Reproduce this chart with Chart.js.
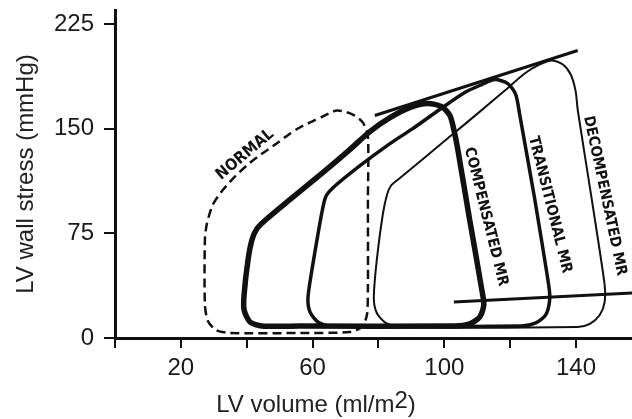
<!DOCTYPE html>
<html>
<head>
<meta charset="utf-8">
<script src="https://cdn.jsdelivr.net/npm/chart.js@4/dist/chart.umd.min.js"></script>
<style>
  html, body { margin: 0; padding: 0; background: #fff; }
  #wrap { width: 632px; height: 419px; position: relative; }
</style>
</head>
<body>
<div id="wrap"><canvas id="chart"></canvas></div>
<script>
// loops: LV volume (ml/m2) vs LV wall stress (mmHg)
const normalVol = [76.8, 76.8, 76.5, 75.0, 71.3, 56.1, 34.9, 30.7, 28.2, 27.3, 27.3, 27.9, 29.7, 32.8, 36.4, 41.0, 45.5, 49.5, 53.1, 56.1, 59.8, 63.1, 67.4, 72.2, 75.3, 76.8, 76.8];
const normalStress = [99, 34.5, 16.5, 7.9, 4.3, 3.6, 3.6, 5.7, 12.2, 23.7, 70.4, 81.8, 95.5, 106.2, 115.6, 125.6, 133.5, 140.0, 146.4, 150.8, 155.1, 158.7, 163, 160.1, 154.3, 144.3, 99];

const compVol = [107.7, 111.4, 112.0, 110.8, 107.7, 103.2, 56.1, 44.6, 41.0, 39.2, 39.2, 40.4, 41.6, 43.1, 45.8, 53.1, 63.1, 71.3, 77.4, 83.5, 89.5, 95.0, 99.2, 101.7, 102.9, 104.1, 107.7];
const compStress = [84.7, 34.5, 23.7, 15.1, 10.1, 8.6, 8.6, 8.6, 11.5, 20.1, 30.9, 56.0, 70.4, 78.3, 84.7, 99.1, 118.5, 135.0, 147.9, 157.9, 165.1, 168.0, 165.8, 159.4, 149.3, 135.0, 84.7];

const transVol = [127.5, 131.7, 132.0, 130.8, 127.8, 123.5, 65.3, 61.6, 59.2, 58.6, 59.8, 61.6, 62.8, 64.0, 66.2, 74.4, 83.5, 90.4, 98.6, 106.2, 111.4, 115.3, 119.3, 121.7, 122.9, 127.5];
const transStress = [99.1, 38.0, 27.3, 16.5, 10.8, 8.6, 8.6, 11.5, 18.7, 28.7, 48.8, 73.9, 89.7, 101.2, 107.7, 123.5, 139.3, 150.0, 163.7, 175.9, 181.6, 185.2, 182.3, 174.4, 160.1, 99.1];

const decompVol = [144.8, 148.7, 148.7, 147.2, 144.2, 140.5, 86.5, 82.2, 79.5, 78.6, 79.5, 81.3, 82.6, 83.8, 85.9, 101.7, 110.8, 118.4, 124.4, 129.0, 132.6, 136.0, 138.4, 139.9, 140.5, 144.8];
const decompStress = [99.1, 38.0, 25.8, 16.5, 10.1, 7.9, 7.9, 10.8, 17.9, 28.7, 56.0, 88.3, 102.7, 109.1, 113.4, 144.3, 162.2, 177.3, 189.5, 196.0, 198.9, 196.0, 188.8, 176.6, 163.7, 99.1];

// end-systolic and end-diastolic lines
const esVol = [78.9, 140.5];
const esStress = [159.4, 206.0];
const edVol = [102.9, 157];
const edStress = [25.8, 32.3];

const xTickLabels = [20, 60, 100, 140];
const yTickLabels = [0, 75, 150, 225];

const pts = (xs, ys) => xs.map((x, i) => ({ x: x, y: ys[i] }));

const INK = '#111';

function loop(data, width, dash) {
    return {
        data: data,
        showLine: true,
        borderColor: INK,
        borderWidth: width,
        borderDash: dash || [],
        pointRadius: 0,
        tension: 0.25,
        fill: false,
    };
}

// text on the loops, placed in data units
const loopLabels = [
    { text: 'NORMAL', x: 39.5, y: 131.4, angle: -40, size: 16 },
    { text: 'COMPENSATED MR', x: 112.6, y: 86.9, angle: 76, size: 15 },
    { text: 'TRANSITIONAL MR', x: 132.0, y: 95.5, angle: 76, size: 15 },
    { text: 'DECOMPENSATED MR', x: 148.7, y: 101.9, angle: 78, size: 15 },
];

const textPlugin = {
    id: 'textPlugin',
    afterDraw(chart) {
        const ctx = chart.ctx;
        const xs = chart.scales.x, ys = chart.scales.y;
        ctx.save();
        ctx.fillStyle = INK;
        ctx.textAlign = 'center';
        ctx.textBaseline = 'middle';
        loopLabels.forEach(l => {
            ctx.save();
            ctx.translate(xs.getPixelForValue(l.x), ys.getPixelForValue(l.y));
            ctx.rotate(l.angle * Math.PI / 180);
            ctx.font = 'bold ' + l.size + 'px "DejaVu Sans Condensed", "DejaVu Sans"';
            ctx.fillText(l.text, 0, 0);
            ctx.restore();
        });
        ctx.restore();

        // x axis title with the raised 2
        ctx.save();
        ctx.fillStyle = '#222';
        ctx.textBaseline = 'alphabetic';
        ctx.textAlign = 'left';
        ctx.font = '24px "Liberation Sans", Arial, sans-serif';
        const a = 'LV volume (ml/m', b = '2', c = ')';
        const wa = ctx.measureText(a).width;
        const wb = ctx.measureText(b).width;
        const wc = ctx.measureText(c).width;
        let x0 = 316 - (wa + wb + wc) / 2;
        const base = 412;
        ctx.fillText(a, x0, base);
        ctx.fillText(b, x0 + wa, base - 4);
        ctx.fillText(c, x0 + wa + wb, base);
        ctx.restore();
    }
};

new Chart(document.getElementById('chart'), {
    type: 'scatter',
    data: {
        datasets: [
            loop(pts(normalVol, normalStress), 2.5, [9, 5]),
            loop(pts(compVol, compStress), 5.5),
            loop(pts(transVol, transStress), 3.5),
            loop(pts(decompVol, decompStress), 2),
            loop(pts(esVol, esStress), 3),
            loop(pts(edVol, edStress), 3),
        ]
    },
    options: {
        responsive: true,
        maintainAspectRatio: false,
        animation: false,
        layout: { padding: { top: 10, right: 0, left: 0, bottom: 0 } },
        plugins: {
            legend: { display: false },
            tooltip: { enabled: false },
        },
        scales: {
            x: {
                type: 'linear',
                min: 0,
                max: 157,
                afterBuildTicks: s => { s.ticks = s.ticks.filter(t => t.value % 20 === 0); },
                afterFit: s => { s.height = 81; s.paddingLeft = 0; s.paddingRight = 0; },
                ticks: {
                    stepSize: 20,
                    includeBounds: false,
                    autoSkip: false,
                    color: '#1a1a1a',
                    padding: 6,
                    maxRotation: 0,
                    font: { family: '"Liberation Sans", Arial, sans-serif', size: 24 },
                    callback: v => xTickLabels.includes(v) ? String(v) : '',
                },
                grid: { drawOnChartArea: false, color: INK, lineWidth: 2, tickLength: 10 },
                border: { color: INK, width: 3 },
            },
            y: {
                type: 'linear',
                min: 0,
                max: 235,
                afterBuildTicks: s => { s.ticks = s.ticks.filter(t => t.value % 75 === 0); },
                afterFit: s => { s.width = 115; s.paddingTop = 0; s.paddingBottom = 0; },
                ticks: {
                    stepSize: 75,
                    includeBounds: false,
                    autoSkip: false,
                    color: '#1a1a1a',
                    padding: 10,
                    font: { family: '"Liberation Sans", Arial, sans-serif', size: 24 },
                    callback: v => yTickLabels.includes(v) ? String(v) : '',
                },
                grid: { drawOnChartArea: false, color: INK, lineWidth: 2, tickLength: 11 },
                border: { color: INK, width: 3 },
                title: {
                    display: true,
                    text: 'LV wall stress (mmHg)',
                    color: '#222',
                    padding: { top: 12, bottom: 0 },
                    font: { family: '"Liberation Sans", Arial, sans-serif', size: 24 },
                },
            },
        },
    },
    plugins: [textPlugin],
});
</script>
</body>
</html>
